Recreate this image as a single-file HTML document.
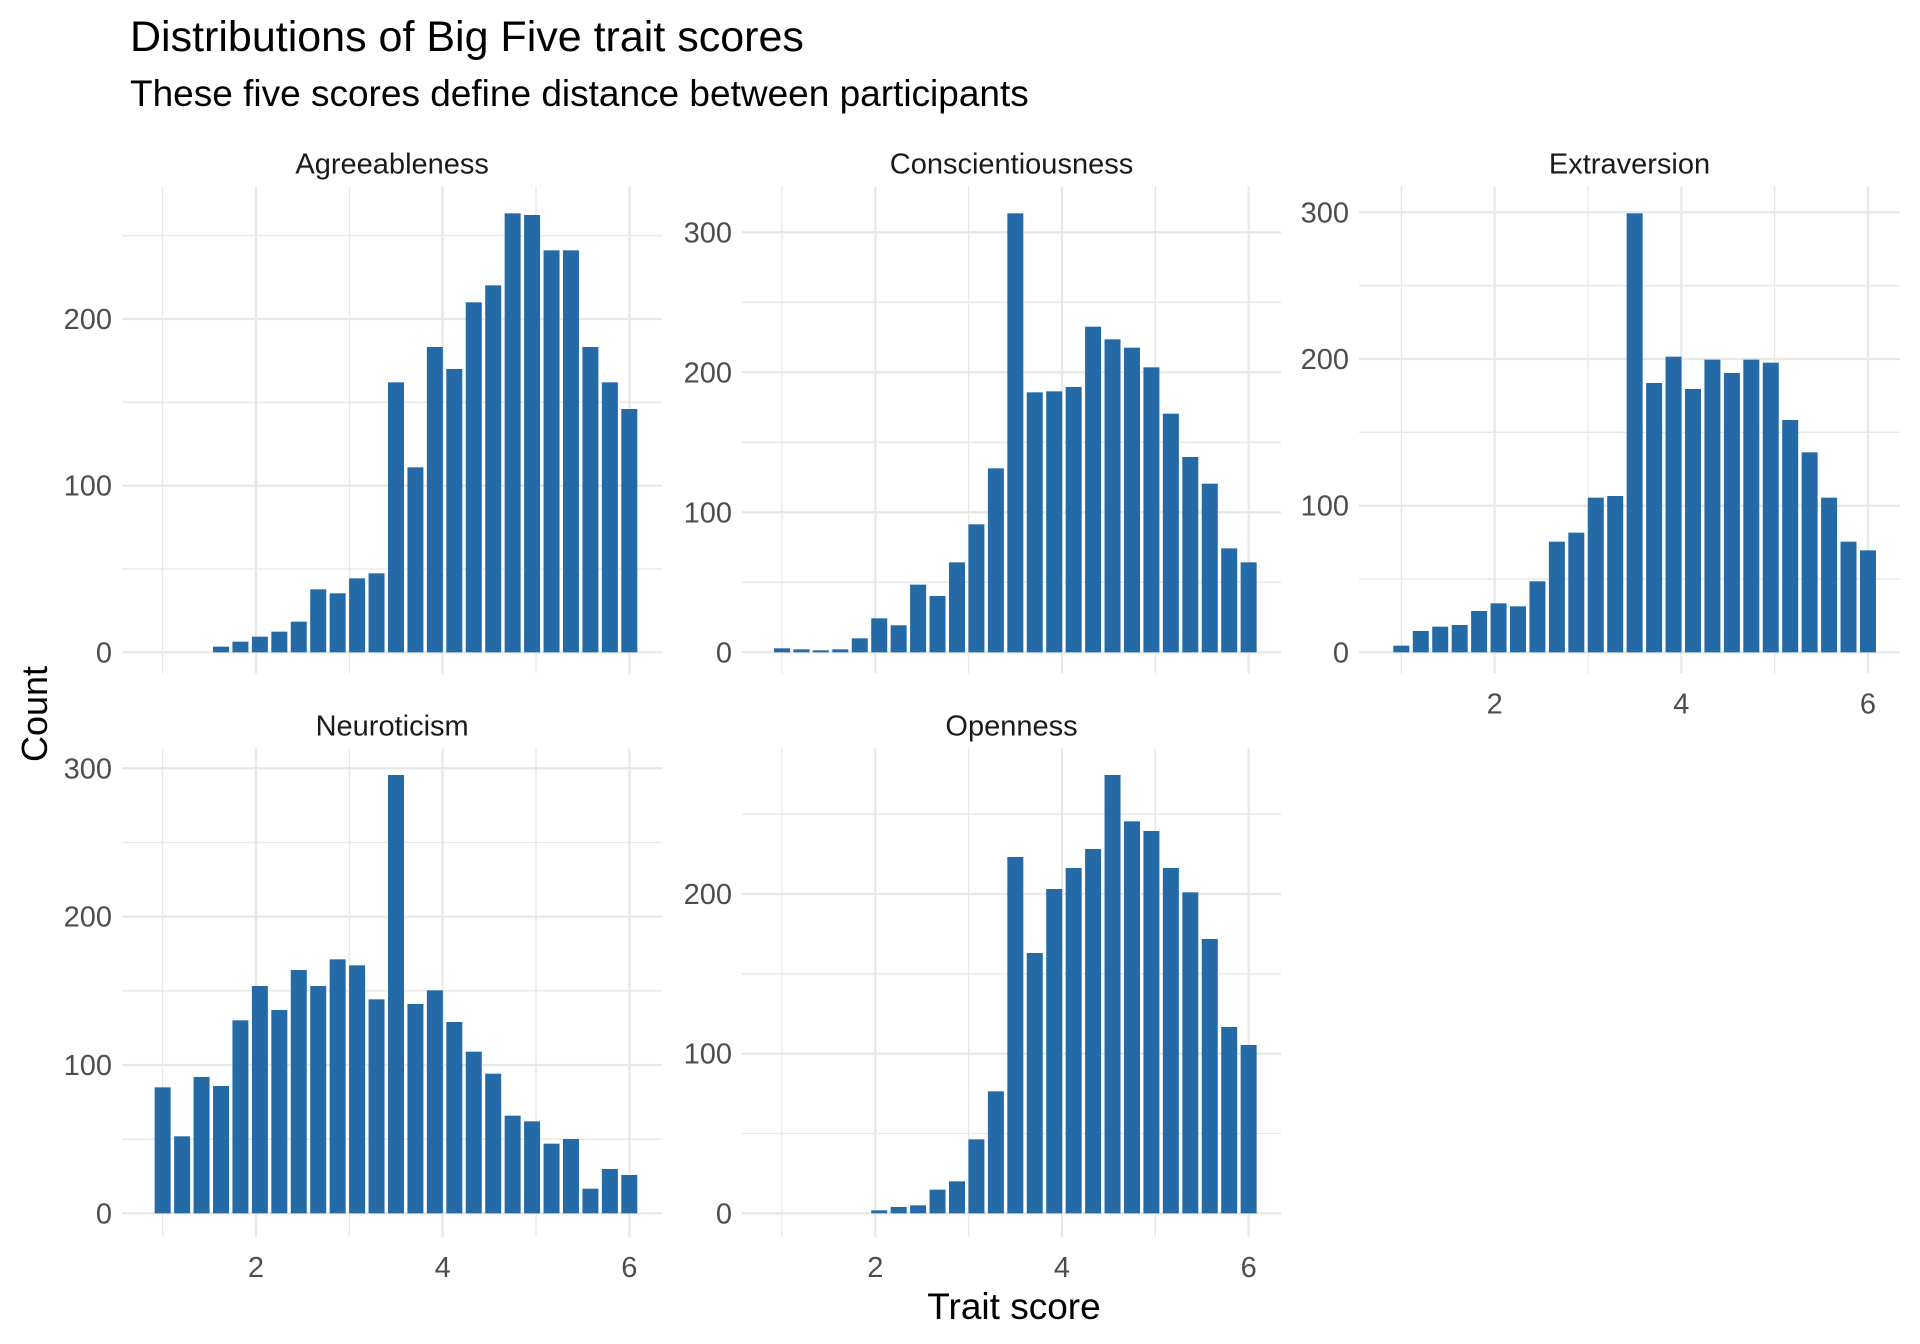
<!DOCTYPE html>
<html><head><meta charset="utf-8"><style>
html,body{margin:0;padding:0;background:#fff;}
svg{display:block;font-family:"Liberation Sans",Arial,sans-serif;}
</style></head><body>
<svg id="s" width="1920" height="1344" viewBox="0 0 1920 1344" xmlns="http://www.w3.org/2000/svg">
<rect width="1920" height="1344" fill="#fff"/>
<text x="130" y="51" font-size="43" fill="#000">Distributions of Big Five trait scores</text>
<text x="130" y="106" font-size="37" fill="#000">These five scores define distance between participants</text>
<text transform="translate(47,714) rotate(-90)" text-anchor="middle" font-size="36" fill="#000">Count</text>
<text x="1014" y="1319" text-anchor="middle" font-size="37" fill="#000">Trait score</text>
</svg>
<script>
var NS="http://www.w3.org/2000/svg",svg=document.getElementById('s');
function el(t,a,p){var e=document.createElementNS(NS,t);for(var k in a)e.setAttribute(k,a[k]);(p||svg).appendChild(e);return e;}
var P=[
{n:"Agreeableness",ox:140,oy:190,x1:68,y0:1387,per:500,xr:[-54,1567],yr:[-11,1450],maj:[0,100,200],xl:false,
 t:[null,null,null,1370,1355,1340,1325,1295,1198,1210,1165,1150,577,832,471,537,337,286,70,75,181,181,471,577,657]},
{n:"Conscientiousness",ox:760,oy:190,x1:66,y0:1387,per:420,xr:[-54,1563],yr:[-11,1450],maj:[0,100,200,300],xl:false,
 t:[1375,1378,1381,1378,1345,1285,1306,1184,1218,1117,1003,835,70,607,604,591,410,448,473,532,671,801,881,1075,1117]},
{n:"Extraversion",ox:1380,oy:190,x1:64,y0:1387,per:440,xr:[-63,1560],yr:[-11,1450],maj:[0,100,200,300],xl:true,
 t:[1367,1323,1310,1305,1263,1240,1249,1174,1055,1028,923,918,70,579,500,597,509,549,509,518,690,787,923,1055,1081]},
{n:"Neuroticism",ox:140,oy:750,x1:68,y0:1390,per:445,xr:[-54,1567],yr:[-5,1461],maj:[0,100,200,300],xl:true,
 t:[1012,1159,981,1008,811,708,780,660,708,628,646,748,75,762,721,816,905,971,1097,1114,1181,1167,1316,1257,1275]},
{n:"Openness",ox:760,oy:750,x1:66,y0:1390,per:479,xr:[-54,1563],yr:[-5,1461],maj:[0,100,200],xl:true,
 t:[null,null,null,null,null,1381,1371,1366,1319,1294,1168,1024,321,609,417,354,297,75,214,243,354,427,567,831,885]}
];
P.forEach(function(p){
 var g=el('g',{transform:'translate('+p.ox+','+p.oy+') scale(0.33333)'});
 var c='#e8e8e8';
 for(var v=0;v<=400;v+=50){var y=p.y0-v*p.per/100;if(y<p.yr[0]||y>p.yr[1])continue;
  el('line',{x1:p.xr[0],x2:p.xr[1],y1:y,y2:y,stroke:c,'stroke-width':(v%100==0)?7:4},g);}
 for(var x=1;x<=6;x++){var xx=p.x1+(x-1)*280;
  el('line',{x1:xx,x2:xx,y1:p.yr[0],y2:p.yr[1],stroke:c,'stroke-width':(x%2==0)?7:4},g);}
 p.t.forEach(function(t,k){if(t==null)return;var cx=p.x1+k*58.33;
  el('rect',{x:cx-24,y:t,width:48,height:p.y0-t,fill:'#246aa7'},g);});
 p.maj.forEach(function(v){var y=p.oy+(p.y0-v*p.per/100)/3;
  var e=el('text',{x:p.ox+p.xr[0]/3-10,y:y+10,'text-anchor':'end','font-size':29,fill:'#4d4d4d'});e.textContent=v;});
 if(p.xl){[2,4,6].forEach(function(v){var x=p.ox+(p.x1+(v-1)*280)/3;
  var e=el('text',{x:x,y:p.oy+p.yr[1]/3+40,'text-anchor':'middle','font-size':29,fill:'#4d4d4d'});e.textContent=v;});}
 var e=el('text',{x:p.ox+(p.xr[0]+p.xr[1])/6,y:p.oy+p.yr[0]/3-13,'text-anchor':'middle','font-size':29,fill:'#1a1a1a'});e.textContent=p.n;
});
</script>
</body></html>
